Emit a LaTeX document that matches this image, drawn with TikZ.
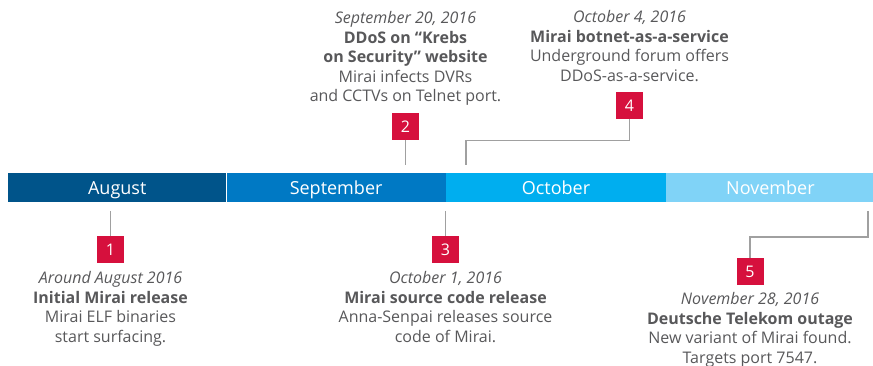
\documentclass[tikz,border=0pt]{standalone}
\usepackage{fontspec}
\setmainfont{Open Sans}
\usetikzlibrary{positioning}
\definecolor{AugBlue}{RGB}{0, 84, 138}
\definecolor{SepBlue}{RGB}{0, 121, 196}
\definecolor{OctBlue}{RGB}{0, 174, 239}
\definecolor{NovBlue}{RGB}{128, 211, 247}
\definecolor{MarkRed}{RGB}{214, 16, 61}
\definecolor{TextGray}{RGB}{88, 88, 90}
\definecolor{LineGray}{RGB}{160, 160, 160}

\begin{document}
\begin{tikzpicture}[x=1pt, y=-1pt,
  month/.style={minimum height=29pt, inner sep=0pt, text height=15pt, text depth=2pt, text=white, font=\fontsize{18}{20}\selectfont},
  marker/.style={fill=MarkRed, text=white, minimum size=27pt, inner sep=0pt, font=\fontsize{16}{18}\selectfont},
  info/.style={text=TextGray, align=center, inner sep=0pt, font=\fontsize{16}{19.5}\selectfont},
  link/.style={draw=LineGray, line width=1.3pt}]
\useasboundingbox (0,0) rectangle (873,366);

% Months
\node[month, fill=AugBlue, minimum width=218pt, anchor=north west] (aug) at (8,173) {August};
\node[month, fill=SepBlue, minimum width=219pt, right=0pt of aug] (sep) {September};
\node[month, fill=OctBlue, minimum width=220pt, right=0pt of sep] (oct) {October};
\node[month, fill=NovBlue, minimum width=208pt, right=0pt of oct] (nov) {November};

% Markers
\node[marker] (m1) at (110.5,249.5) {1};
\node[marker] (m2) at (405.5,126.5) {2};
\node[marker] (m3) at (445.5,249.5) {3};
\node[marker] (m4) at (629.5,105.5) {4};
\node[marker] (m5) at (750,271.5) {5};

% Connectors
\coordinate (c1) at (110.5,211);
\coordinate (c2) at (405.5,165);
\coordinate (c3) at (445.5,211);
\coordinate (c4) at (466,165);
\coordinate (c5) at (868,211);
\draw[link] (c1) -- (m1.north);
\draw[link] (m2.south) -- (c2);
\draw[link] (c3) -- (m3.north);
\draw[link] (m4.south) -- ++(0,21) -| (c4);
\draw[link] (c5) -- ++(0,26) -| (m5.north);

% Events
\node[info, below=8pt of m1] (t1) {{\itshape Around August 2016}\\ \textbf{Initial Mirai release}\\ Mirai ELF binaries\\ start surfacing.};
\node[info, above=7pt of m2] (t2) {{\itshape September 20, 2016}\\ \textbf{DDoS on “Krebs}\\ \textbf{on Security" website}\\ Mirai infects DVRs\\ and CCTVs on Telnet port.};
\node[info, below=8pt of m3] (t3) {{\itshape October 1, 2016}\\ \textbf{Mirai source code release}\\ Anna-Senpai releases source\\ code of Mirai.};
\node[info, above=10pt of m4] (t4) {{\itshape October 4, 2016}\\ \textbf{Mirai botnet-as-a-service}\\ Underground forum offers\\ DDoS-as-a-service.};
\node[info, below=7pt of m5] (t5) {{\itshape November 28, 2016}\\ \textbf{Deutsche Telekom outage}\\ New variant of Mirai found.\\ Targets port 7547.};
\end{tikzpicture}
\end{document}
